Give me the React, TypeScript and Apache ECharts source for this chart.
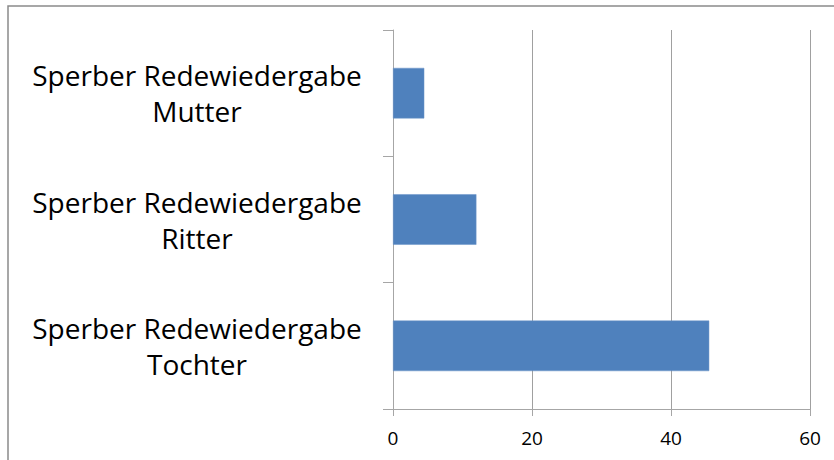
import React, { useEffect, useRef } from "react";
import * as echarts from "echarts";

// Categories listed bottom to top, as a category y axis draws them
const categories = [
  "Sperber Redewiedergabe\nTochter",
  "Sperber Redewiedergabe\nRitter",
  "Sperber Redewiedergabe\nMutter",
];
const values = [45.5, 12, 4.5];
const xTicks = { min: 0, max: 60, interval: 20 };

export default function App() {
  const ref = useRef<HTMLDivElement>(null);

  useEffect(() => {
    if (!ref.current) return;
    const chart = echarts.init(ref.current, null, { renderer: "svg" });
    chart.setOption({
      animation: false,
      backgroundColor: "#ffffff",
      grid: { left: 393, top: 30, right: 24, bottom: 51, containLabel: false },
      graphic: [
        {
          type: "rect",
          shape: { x: 8, y: 6, width: 900, height: 500 },
          style: { fill: "none", stroke: "#8a8a8a", lineWidth: 1.5 },
          silent: true,
        },
      ],
      xAxis: {
        type: "value",
        min: xTicks.min,
        max: xTicks.max,
        interval: xTicks.interval,
        axisLine: { show: true, lineStyle: { color: "#a6a6a6", width: 1 } },
        axisTick: { show: true, length: 7, lineStyle: { color: "#a6a6a6" } },
        splitLine: { show: true, lineStyle: { color: "#a0a0a0", width: 1 } },
        axisLabel: {
          margin: 19,
          fontSize: 19,
          color: "#000",
          fontFamily: "Open Sans",
        },
      },
      yAxis: {
        type: "category",
        data: categories,
        axisLine: { show: true, lineStyle: { color: "#a6a6a6", width: 1 } },
        axisTick: { show: true, length: 10, lineStyle: { color: "#a6a6a6" } },
        axisLabel: {
          margin: 196,
          align: "center",
          fontSize: 28,
          lineHeight: 36,
          color: "#000",
          fontFamily: "Open Sans",
        },
      },
      series: [
        {
          type: "bar",
          data: values,
          barCategoryGap: "60%",
          itemStyle: { color: "#4f81bd", borderColor: "#6a94c8", borderWidth: 0.5 },
        },
      ],
    });
    return () => chart.dispose();
  }, []);

  return (
    <div
      ref={ref}
      style={{ position: "absolute", left: 0, top: 0, width: 834, height: 460 }}
    />
  );
}
